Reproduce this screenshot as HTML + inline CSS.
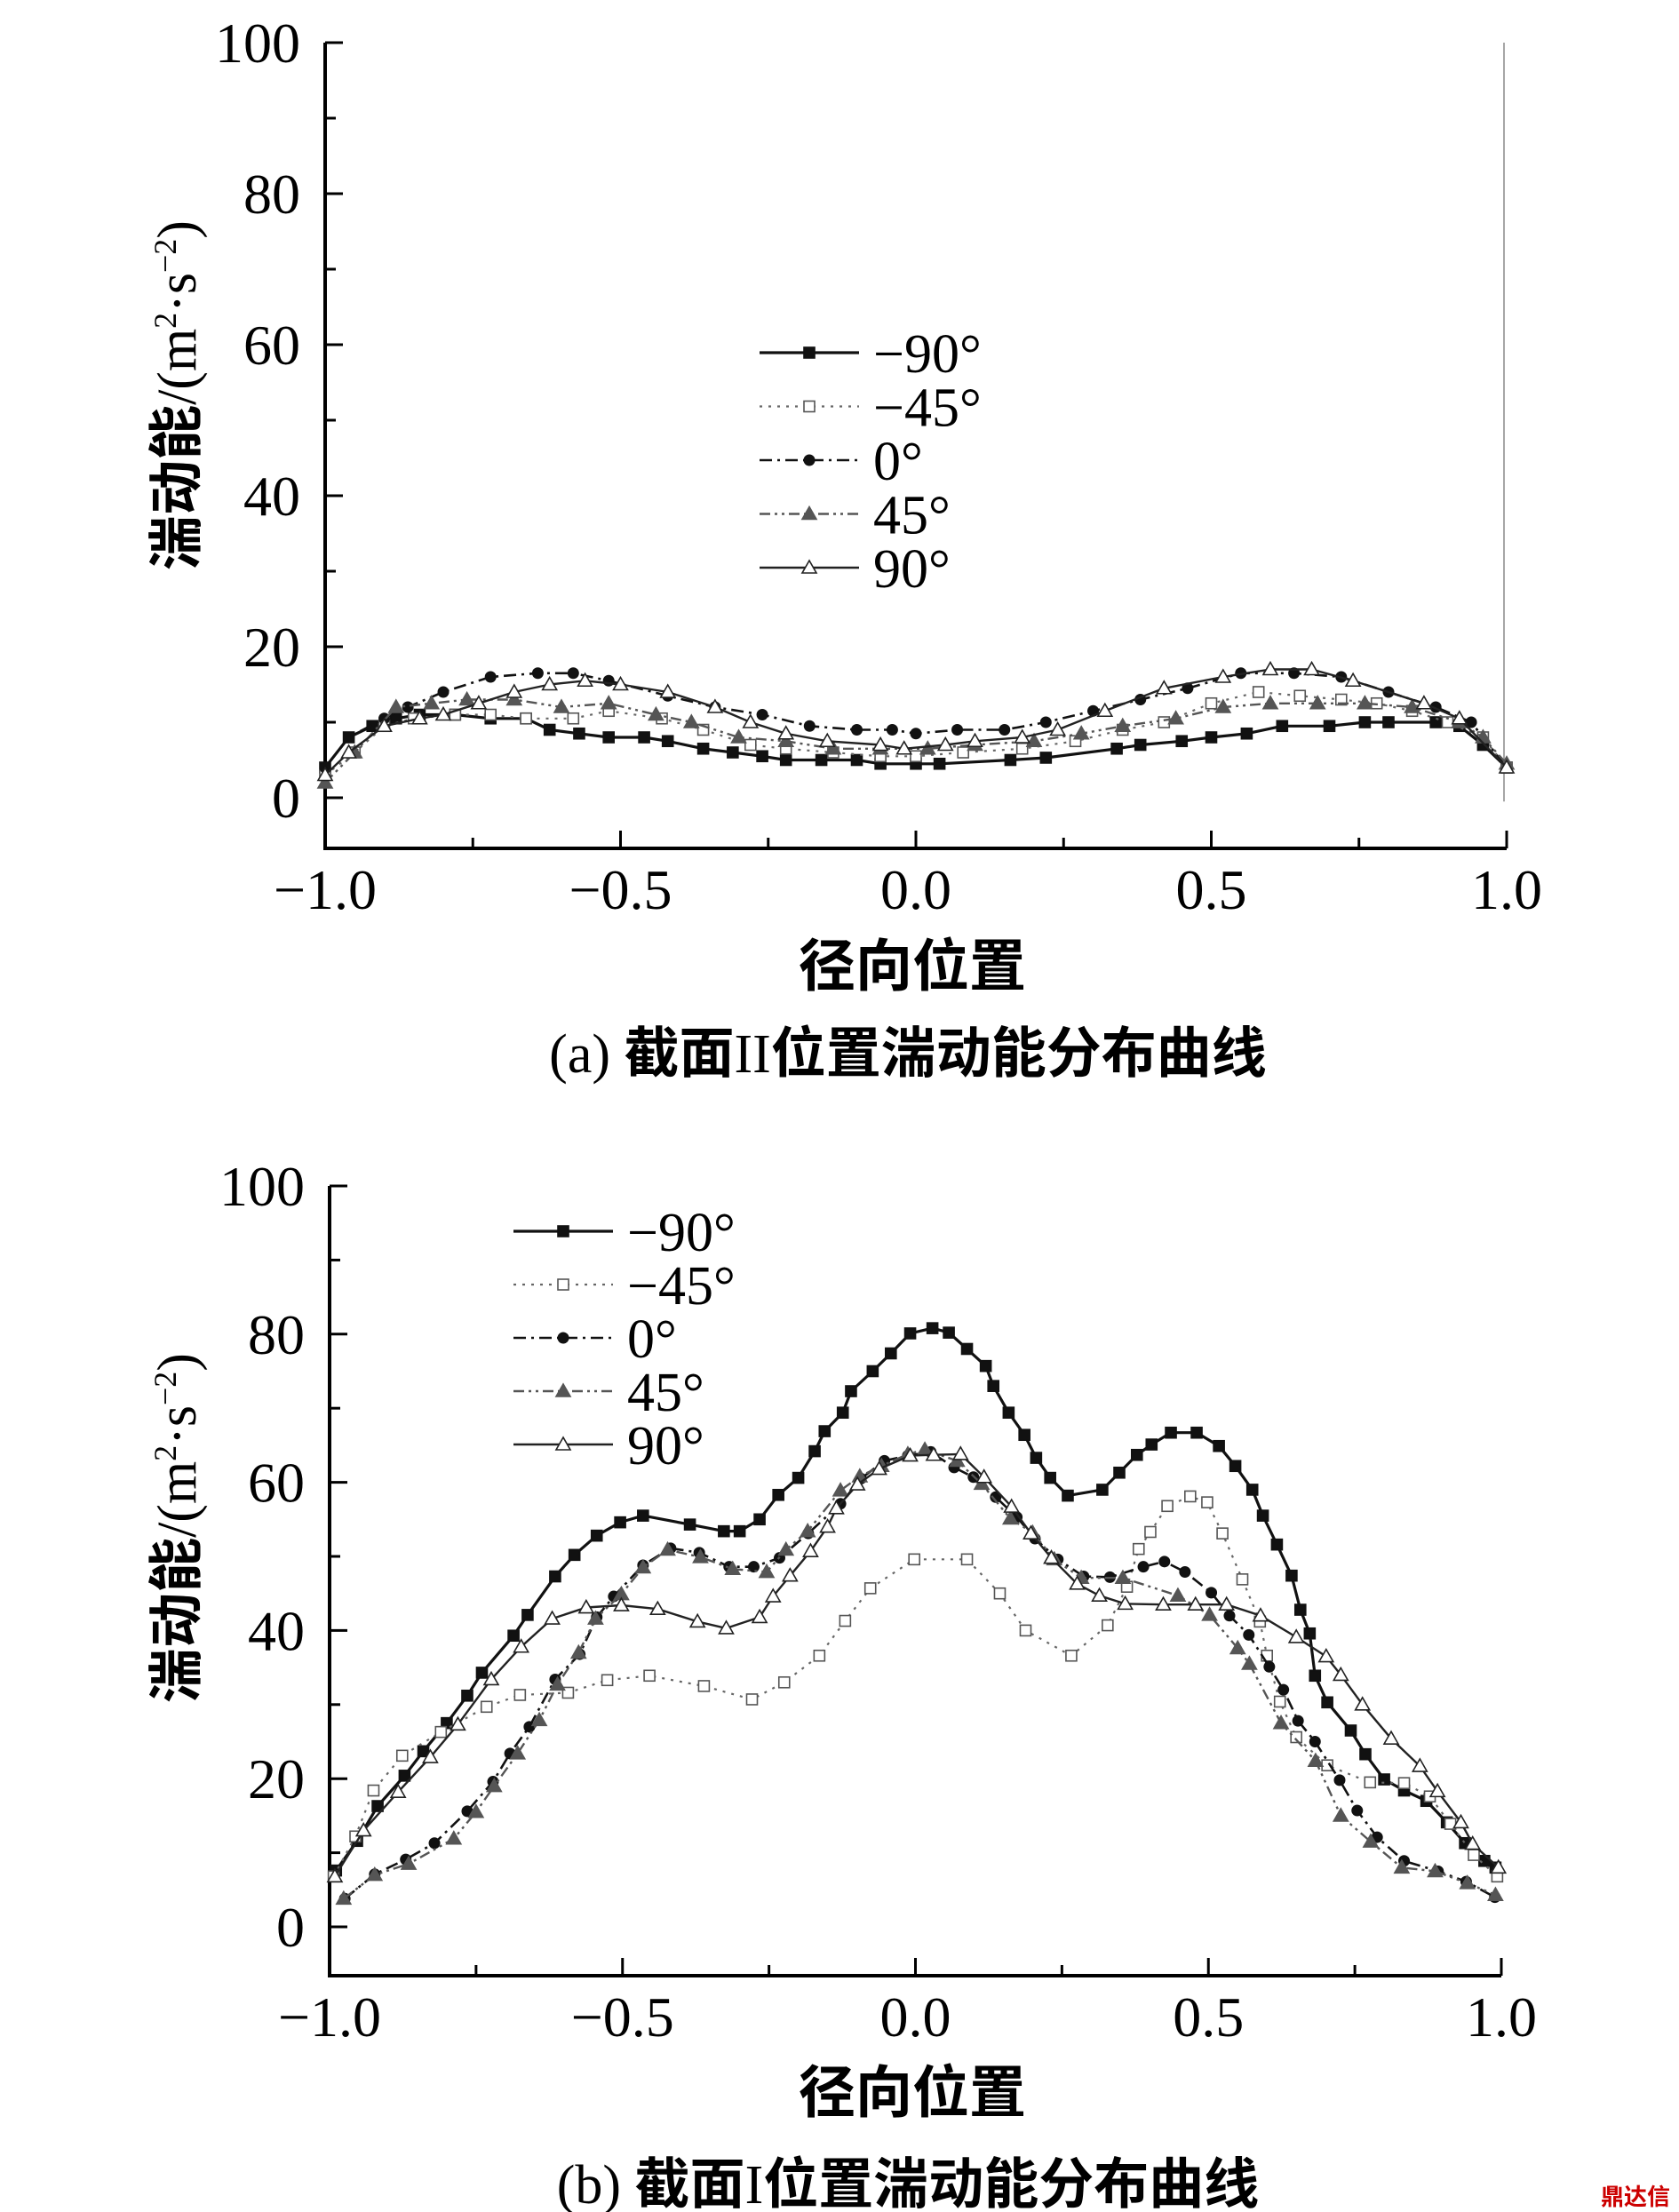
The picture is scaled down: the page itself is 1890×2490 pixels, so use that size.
<!DOCTYPE html>
<html><head><meta charset="utf-8">
<style>
html,body{margin:0;padding:0;background:#fff;}
svg{display:block;}
text{font-family:"Liberation Serif","Noto Serif CJK SC",serif;fill:#000;}
.cjk{font-family:"Noto Sans CJK SC","Noto Serif CJK SC",sans-serif;font-weight:bold;}
</style></head>
<body>
<svg id="root" width="1890" height="2490" viewBox="0 0 1890 2490" xmlns="http://www.w3.org/2000/svg">
<rect width="1890" height="2490" fill="#fff"/>
<g id="chartA"></g>
<g id="chartB"></g>
<text class="cjk" x="1027" y="1110" font-size="64" text-anchor="middle">径向位置</text>
<text x="1022" y="1207" font-size="62" text-anchor="middle"><tspan>(a) </tspan><tspan class="cjk">截面</tspan><tspan>II</tspan><tspan class="cjk">位置湍动能分布曲线</tspan></text>
<text class="cjk" x="1027" y="2378" font-size="64" text-anchor="middle">径向位置</text>
<text x="1022" y="2480" font-size="62" text-anchor="middle"><tspan>(b) </tspan><tspan class="cjk">截面</tspan><tspan>I</tspan><tspan class="cjk">位置湍动能分布曲线</tspan></text>
<text transform="translate(220,445) rotate(-90)" font-size="62" text-anchor="middle"><tspan class="cjk">湍动能</tspan>/(m<tspan font-size="36" dy="-22">2</tspan><tspan dy="22">·s</tspan><tspan font-size="36" dy="-22">−2</tspan><tspan dy="22">)</tspan></text>
<text transform="translate(220,1720) rotate(-90)" font-size="62" text-anchor="middle"><tspan class="cjk">湍动能</tspan>/(m<tspan font-size="36" dy="-22">2</tspan><tspan dy="22">·s</tspan><tspan font-size="36" dy="-22">−2</tspan><tspan dy="22">)</tspan></text>
<text class="cjk" x="1880" y="2482" font-size="26" fill="#c00" text-anchor="end" style="fill:#c00">鼎达信</text>
</svg>
<script>
// ---- Chart (a) data ----
const aN90x = [-1.0,-0.96,-0.92,-0.88,-0.84,-0.78,-0.72,-0.66,-0.62,-0.57,-0.52,-0.46,-0.42,-0.36,-0.31,-0.26,-0.22,-0.16,-0.1,-0.06,0.0,0.04,0.16,0.22,0.34,0.38,0.45,0.5,0.56,0.62,0.7,0.76,0.8,0.88,0.92,0.96,1.0];
const aN90y = [4,8,9.5,10.5,11,11,10.5,10.5,9,8.5,8,8,7.5,6.5,6,5.5,5,5,5,4.5,4.5,4.5,5,5.3,6.5,7,7.5,8,8.5,9.5,9.5,10,10,10,9.5,7,4];
const aN45x = [-1.0,-0.95,-0.9,-0.85,-0.78,-0.72,-0.66,-0.58,-0.52,-0.43,-0.36,-0.28,-0.22,-0.14,-0.06,0.0,0.08,0.18,0.27,0.35,0.42,0.5,0.58,0.65,0.72,0.78,0.84,0.9,0.96,1.0];
const aN45y = [3,6,9.5,10.5,11,11,10.5,10.5,11.5,10.5,9,7,6.5,6,5.5,5.5,6,6.5,7.5,9,10,12.5,14,13.5,13,12.5,11.5,10,8,4];
const a0x = [-1.0,-0.96,-0.9,-0.86,-0.8,-0.72,-0.64,-0.58,-0.52,-0.42,-0.34,-0.26,-0.18,-0.1,-0.04,0.0,0.07,0.15,0.22,0.3,0.38,0.46,0.55,0.64,0.72,0.8,0.88,0.94,1.0];
const a0y = [4,8,10.5,12,14,16,16.5,16.5,15.5,13.5,12,11,9.5,9,9,8.5,9,9,10,11.5,13,14.5,16.5,16.5,16,14,12,10,4];
const a45x = [-1.0,-0.95,-0.88,-0.82,-0.76,-0.68,-0.6,-0.52,-0.44,-0.38,-0.3,-0.22,-0.14,-0.06,0.02,0.1,0.2,0.28,0.35,0.44,0.52,0.6,0.68,0.76,0.84,0.92,0.96,1.0];
const a45y = [2,6,12,12.5,13,13,12,12.5,11,10,8,7.5,6.5,6.5,6.5,7,7.5,8.5,9.5,10.5,12,12.5,12.5,12.5,12,10,8,4.5];
const a90x = [-1.0,-0.96,-0.9,-0.84,-0.8,-0.74,-0.68,-0.62,-0.56,-0.5,-0.42,-0.34,-0.28,-0.22,-0.15,-0.06,-0.02,0.05,0.1,0.18,0.24,0.32,0.42,0.52,0.6,0.67,0.74,0.86,0.92,1.0];
const a90y = [3,6,9.5,10.5,11,12.5,14,15,15.5,15,14,12,10,8.5,7.5,7,6.5,7,7.5,8,9,11.5,14.5,16,17,17,15.5,12.5,10.5,4];

// ---- Chart (b) data ----
const bN90x = [-0.989,-0.953,-0.918,-0.872,-0.84,-0.8,-0.765,-0.74,-0.686,-0.662,-0.615,-0.582,-0.544,-0.504,-0.465,-0.385,-0.327,-0.3,-0.266,-0.234,-0.2,-0.172,-0.155,-0.124,-0.11,-0.073,-0.042,-0.009,0.029,0.057,0.088,0.12,0.133,0.159,0.186,0.206,0.23,0.26,0.319,0.348,0.378,0.403,0.436,0.48,0.518,0.546,0.575,0.593,0.617,0.642,0.657,0.673,0.682,0.703,0.743,0.768,0.8,0.834,0.872,0.907,0.938,0.971,0.99];
const bN90y = [7.6,11.6,16.3,20.4,23.7,27.5,31.2,34.3,39.3,42.1,47.3,50.2,52.8,54.6,55.5,54.3,53.4,53.4,55,58.3,60.6,64.2,66.9,69.4,72.3,75,77.4,80.1,80.8,80.2,78,75.7,73,69.4,66.4,63.3,60.6,58.2,59,61.3,63.7,65.1,66.7,66.7,64.9,62.2,59,55.5,51.6,47.4,42.8,39.6,33.9,30.3,26.5,23.3,19.9,18.4,17,14.1,11.3,8.9,8];
const bN45x = [-0.993,-0.956,-0.925,-0.876,-0.81,-0.732,-0.675,-0.593,-0.526,-0.454,-0.361,-0.279,-0.224,-0.164,-0.12,-0.077,-0.002,0.088,0.144,0.188,0.266,0.328,0.361,0.381,0.401,0.43,0.469,0.498,0.524,0.558,0.588,0.6,0.622,0.65,0.703,0.776,0.834,0.878,0.913,0.953,0.993];
const bN45y = [6.8,12.2,18.4,23.1,26.3,29.7,31.3,31.6,33.3,33.9,32.5,30.7,33,36.6,41.3,45.7,49.6,49.6,45,40,36.6,40.7,45.9,51,53.3,56.8,58.1,57.3,53.1,46.9,41.2,36.6,30.4,25.6,21.8,19.5,19.4,17.6,13.9,9.7,6.8];
const b0x = [-0.974,-0.923,-0.87,-0.821,-0.765,-0.721,-0.692,-0.659,-0.615,-0.573,-0.544,-0.515,-0.465,-0.418,-0.369,-0.318,-0.276,-0.232,-0.183,-0.128,-0.093,-0.053,-0.013,0.026,0.066,0.099,0.137,0.173,0.204,0.243,0.287,0.332,0.389,0.425,0.46,0.505,0.536,0.569,0.604,0.628,0.653,0.682,0.724,0.754,0.788,0.834,0.892,0.94,0.989];
const b0y = [3.8,7.1,9.1,11.3,15.6,19.6,23.4,27,33.4,36.8,41.8,44.6,48.8,51.1,50.5,48.6,48.6,49.8,53.1,57.1,60.5,62.9,63.6,64.1,62,60.7,58,55.3,52.4,49.6,47.3,47.2,48.6,49.3,47.9,45.1,42,39.4,35.1,32,27.8,25,19.8,15.7,12.1,8.9,7.5,6.1,4];
const b45x = [-0.976,-0.923,-0.865,-0.788,-0.75,-0.719,-0.679,-0.642,-0.611,-0.575,-0.546,-0.502,-0.465,-0.423,-0.367,-0.312,-0.254,-0.221,-0.184,-0.128,-0.095,-0.058,-0.013,0.016,0.071,0.113,0.162,0.2,0.237,0.283,0.354,0.448,0.502,0.55,0.57,0.624,0.683,0.726,0.777,0.83,0.887,0.942,0.99];
const b45y = [3.8,7,8.5,11.9,15.5,19,23.4,27.9,32.7,37,41.6,44.9,48.5,50.9,49.9,48.3,47.9,50.9,53.4,58.9,60.8,62.2,63.8,64.4,62.9,59.8,55.1,53.2,49.6,47.1,47.1,44.7,42.1,37.6,35.5,27.5,22.4,15,11.5,8,7.5,5.9,4.3];
const b90x = [-0.991,-0.942,-0.883,-0.828,-0.781,-0.724,-0.673,-0.62,-0.562,-0.502,-0.44,-0.372,-0.323,-0.266,-0.243,-0.214,-0.179,-0.15,-0.135,-0.099,-0.062,-0.009,0.031,0.077,0.117,0.164,0.197,0.232,0.276,0.314,0.358,0.423,0.478,0.531,0.589,0.65,0.701,0.726,0.763,0.812,0.861,0.891,0.931,0.951,0.995];
const b90y = [6.8,13,18.2,22.9,27.3,33.4,37.8,41.6,43.1,43.4,42.9,41.2,40.3,41.8,44.6,47.4,50.7,54,56.5,59.7,61.8,63.6,63.7,63.8,60.7,56.7,53.1,49.8,46.3,44.7,43.6,43.5,43.5,43.5,42,39.1,36.5,34,30,25.4,21.7,18.3,14.1,11.2,8];

const legendLabels = ['−90°','−45°','0°','45°','90°'];
const yTickLabels = ['0','20','40','60','80','100'];
const xTickLabels = ['−1.0','−0.5','0.0','0.5','1.0'];

const NS='http://www.w3.org/2000/svg';
function mk(tag, attrs, parent){
  const e=document.createElementNS(NS,tag);
  for(const k in attrs) e.setAttribute(k,attrs[k]);
  parent.appendChild(e); return e;
}
const styles = [
  {stroke:'#111', w:3.2, dash:'', marker:'sq', fill:'#111', mstroke:'#111'},
  {stroke:'#666', w:2.2, dash:'3 7', marker:'sq', fill:'#fff', mstroke:'#555'},
  {stroke:'#111', w:2.6, dash:'14 6 3 6', marker:'ci', fill:'#111', mstroke:'#111'},
  {stroke:'#555', w:2.4, dash:'12 5 3 5 3 5', marker:'tr', fill:'#555', mstroke:'#555'},
  {stroke:'#222', w:2.4, dash:'', marker:'tr', fill:'#fff', mstroke:'#222'}
];
function marker(g, kind, x, y, st){
  let m;
  if(kind==='sq') m=mk('rect',{x:x-6,y:y-6,width:12,height:12,fill:st.fill,stroke:st.mstroke,'stroke-width':1.6},g);
  else if(kind==='ci') m=mk('circle',{cx:x,cy:y,r:6.5,fill:st.fill},g);
  else m=mk('polygon',{points:`${x},${y-8} ${x-8},${y+6} ${x+8},${y+6}`,fill:st.fill,stroke:st.mstroke,'stroke-width':1.6},g);
  
  
}
function drawChart(root, c, series, leg, rightLine){
  const sx=v=>c.x0+(v+1)/2*(c.x1-c.x0);
  const sy=v=>c.y0-v*c.ppu;
  const ax=mk('path',{d:`M${c.x0},${sy(100)} L${c.x0},${c.yb} L${c.x1},${c.yb}`,fill:'none',stroke:'#000','stroke-width':4},root);
  
  
  if(rightLine){
    const rl=mk('line',{x1:c.x1-3,y1:sy(100),x2:c.x1-3,y2:sy(-0.5),stroke:'#888','stroke-width':1.5},root);
    
    
  }
  for(let i=0;i<=10;i++){
    const v=i*10, major=i%2===0;
    mk('line',{x1:c.x0,y1:sy(v),x2:c.x0+(major?20:12),y2:sy(v),stroke:'#000','stroke-width':3},root);
    if(major){
      const t=mk('text',{x:c.x0-28,y:sy(v)+22,'font-size':64,'text-anchor':'end'},root);
      t.textContent=yTickLabels[i/2];
      
      
    }
  }
  for(let i=0;i<=8;i++){
    const v=-1+i*0.25, major=i%2===0;
    mk('line',{x1:sx(v),y1:c.yb,x2:sx(v),y2:c.yb-(major?20:12),stroke:'#000','stroke-width':3},root);
    if(major){
      const t=mk('text',{x:sx(v),y:c.yb+68,'font-size':64,'text-anchor':'middle'},root);
      t.textContent=xTickLabels[i/2];
      
      
    }
  }
  series.forEach((s,k)=>{
    const st=styles[k];
    const g=mk('g',{},root);
    
    
    const d=s[0].map((x,i)=>(i?'L':'M')+sx(x).toFixed(1)+','+sy(s[1][i]).toFixed(1)).join(' ');
    const p=mk('path',{d:d,fill:'none',stroke:st.stroke,'stroke-width':st.w,'stroke-dasharray':st.dash,'stroke-linejoin':'round'},g);
    
    
    s[0].forEach((x,i)=>marker(g,st.marker,sx(x),sy(s[1][i]),st));
  });
  const lg=mk('g',{},root);
  
  
  legendLabels.forEach((lab,k)=>{
    const st=styles[k], y=leg.y+k*leg.dy;
    const e=mk('g',{},lg);
    
    
    mk('line',{x1:leg.x,y1:y,x2:leg.x+112,y2:y,stroke:st.stroke,'stroke-width':st.w,'stroke-dasharray':st.dash},e);
    marker(e,st.marker,leg.x+56,y,st);
    const t=mk('text',{x:leg.x+128,y:y+22,'font-size':62},e);
    t.textContent=lab;
  });
}
drawChart(document.getElementById('chartA'),{x0:366,x1:1696,y0:898,ppu:8.5,yb:955},
  [[aN90x,aN90y],[aN45x,aN45y],[a0x,a0y],[a45x,a45y],[a90x,a90y]],{x:855,y:397,dy:60.5},true);
drawChart(document.getElementById('chartB'),{x0:371,x1:1690,y0:2169,ppu:8.34,yb:2224},
  [[bN90x,bN90y],[bN45x,bN45y],[b0x,b0y],[b45x,b45y],[b90x,b90y]],{x:578,y:1386,dy:60},false);
</script>
</body></html>
